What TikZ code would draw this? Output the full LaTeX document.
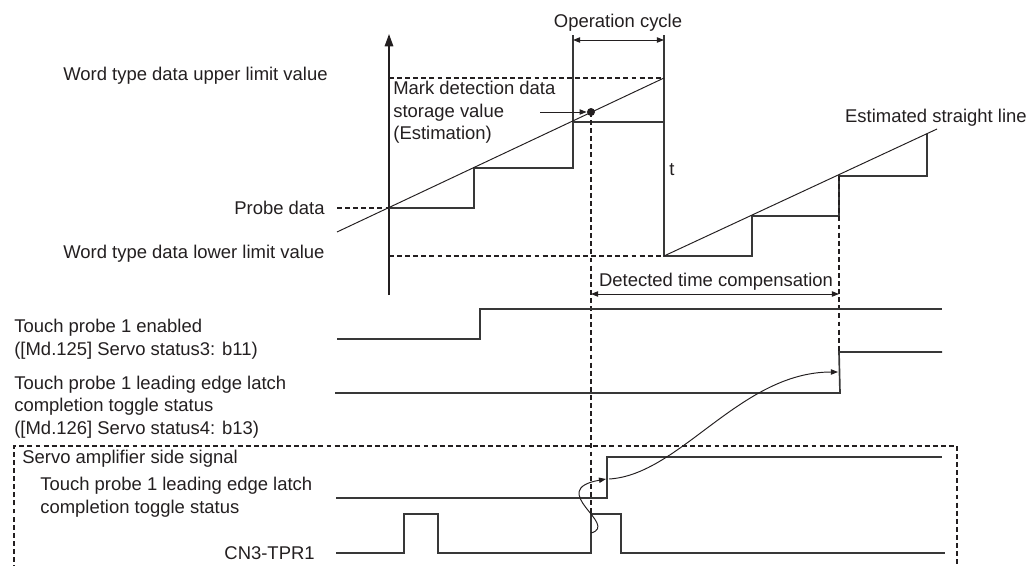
\documentclass[tikz,border=0pt]{standalone}
\usepackage{fontspec}
\setmainfont{Liberation Sans}
\usepackage{tikz}
\usetikzlibrary{arrows.meta,positioning}
\definecolor{inkdark}{HTML}{231F20}
\definecolor{wavegrey}{HTML}{383838}
\tikzset{
  % ---- texts ----------------------------------------------------------
  tlabel/.style={inner sep=0pt, text=inkdark, align=left,
                 font=\fontsize{10.5}{12.9}\selectfont},
  % ---- lines ----------------------------------------------------------
  twave/.style={draw=wavegrey, line width=0.95pt},
  tthin/.style={draw=inkdark, line width=0.55pt},
  tdash/.style={draw=inkdark, line width=0.6pt, dash pattern=on 2.8pt off 1.8pt},
  tflow/.style={tthin, -{Triangle[length=4pt,width=3pt]}},
  tspan/.style={tthin, {Triangle[length=4pt,width=3pt]}-{Triangle[length=4pt,width=3pt]}},
  taxis/.style={draw=inkdark, line width=0.95pt, -{Triangle[length=7pt,width=4.8pt]}},
  tdot/.style={circle, fill=inkdark, inner sep=0pt, minimum size=1.6mm},
}

\begin{document}
\begin{tikzpicture}[x=0.2mm, y=-0.2mm]
\useasboundingbox (0,0) rectangle (1029,565);

% ---------------- upper plot: value axis -----------------------------
\coordinate (axbot) at (389,295);
\coordinate (axtop) at (389,34);
\draw[taxis] (axbot) -- (axtop);

\draw[tdash] (389,78) -- (664,78);
\draw[tdash] (389,256) -- (664,256);
\coordinate (pd) at (337,208);
\draw[tdash] (pd) -- (389,208);

\node[tlabel, anchor=west] (upper) at (63,76) {Word type data upper limit value};
\node[tlabel, anchor=west] (lower) at (63,254) {Word type data lower limit value};
\node[tlabel, left=2.4mm of pd] (probe) {Probe data};

% ---------------- staircase and estimated lines ----------------------
\draw[twave] (389,208) -- (474,208) -- (474,168) -- (573,168) -- (573,122)
  -- (664,122) -- (664,256) -- (752,256) -- (752,216) -- (839,216)
  -- (839,176) -- (927,176) -- (927,134);
\draw[twave] (573,122) -- (573,35);
\draw[twave] (664,122) -- (664,35);

\draw[tthin] (337,232) -- (664,78);
\draw[tthin] (664,256) -- (937,129);

\node[tlabel] (opc) at (618,23) {Operation cycle};
\draw[tspan] (573,40) -- (664,40);

\node[tlabel] (tlab) at (672,170) {t};
\node[tlabel, anchor=east] (est) at (1027,118) {Estimated straight line};

% ---------------- mark detection point -------------------------------
\node[tdot] (dot) at (591,112) {};
\node[tlabel, anchor=west] (mark) at (393,112.5)
  {Mark detection data\\storage value\\(Estimation)};
\draw[tflow] (540,112) -- (dot);

\coordinate (pulse) at (591,514);
\draw[tdash] (dot.center) -- (pulse);
\coordinate (latch) at (839,352);
\draw[tdash] (839,176) -- (latch);

\node[tlabel] (dtc) at (716,282) {Detected time compensation};
\draw[tspan] (591,294) -- (839,294);

% ---------------- controller side signals ----------------------------
\node[tlabel, anchor=west] (enab) at (14,339.5)
  {Touch probe 1 enabled\\([Md.125] Servo status3: b11)};
\draw[twave] (337,339) -- (480,339) -- (480,309) -- (942,309);

\node[tlabel, anchor=west] (ctog) at (14,407)
  {Touch probe 1 leading edge latch\\completion toggle status\\([Md.126] Servo status4: b13)};
\draw[twave] (335,393) -- (840,393) -- (latch) -- (942,352);

% ---------------- servo amplifier side -------------------------------
\draw[tdash] (14,570) -- (14,446) -- (957,446) -- (957,570);
\node[tlabel, anchor=west] (servo) at (22,459) {Servo amplifier side signal};

\node[tlabel, anchor=west] (stog) at (40,497.5)
  {Touch probe 1 leading edge latch\\completion toggle status};
\draw[twave] (336,498) -- (607,498) -- (607,457) -- (942,457);

\coordinate (cn) at (336,553);
\node[tlabel, left=4.2mm of cn] (cnlab) {CN3-TPR1};
\draw[twave] (cn) -- (404,553) -- (404,514) -- (438,514) -- (438,553)
  -- (591,553) -- (pulse) -- (621,514) -- (621,553) -- (945,553);

% ---------------- trigger chain --------------------------------------
\coordinate (c1s) at (591,533);
\coordinate (c1e) at (606,479);
\coordinate (c2s) at (609,479);
\coordinate (c2e) at (838,372);
\draw[tflow] (c1s) .. controls (620,525) and (545,490) .. (c1e);
\draw[tflow] (c2s) .. controls (680,475) and (740,372) .. (c2e);

\end{tikzpicture}
\end{document}
